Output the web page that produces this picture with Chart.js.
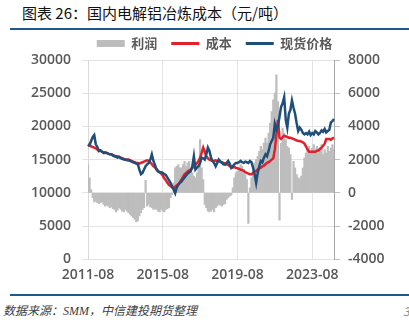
<!DOCTYPE html>
<html>
<head>
<meta charset="utf-8">
<script src="https://cdn.jsdelivr.net/npm/chart.js@4"></script>
<style>
body{margin:0;width:409px;height:326px;background:#fff;position:relative;overflow:hidden;font-family:'Noto Sans CJK SC',sans-serif;}
#title{position:absolute;left:22px;top:3px;font-size:15px;line-height:20px;color:#111;white-space:nowrap;}
.rule{position:absolute;left:10px;width:399px;height:2px;background:#1d5a8a;}
#wrap{position:absolute;left:0;top:23px;width:409px;height:267px;}
#src{position:absolute;left:3px;top:302px;font-size:12px;line-height:18px;font-style:italic;color:#404040;font-family:'Liberation Serif','Noto Sans CJK SC',serif;white-space:nowrap;}
#pg{position:absolute;left:403px;top:302px;font-size:12px;line-height:18px;font-style:italic;color:#888;}
</style>
</head>
<body>
<div id="title">图表 26：国内电解铝冶炼成本（元/吨）</div>
<div class="rule" style="top:28px"></div>
<div id="wrap"><canvas id="c"></canvas></div>
<div class="rule" style="top:294px"></div>
<div id="src">数据来源：SMM，中信建投期货整理</div>
<div id="pg">3</div>
<script>
// monthly, 2011-08 .. 2024-10
const startYear = 2011, startMonth = 8, monthCount = 159;
const tickLabels = ['2011-08', '2015-08', '2019-08', '2023-08'];

// 成本 (元/吨)
const cost = [
  17300, 17200, 17000, 16900, 16800, 16700, 16500, 16300, 16300, 16200, 16100, 16000,
  16000, 15900, 15800, 15800, 15700, 15600, 15500, 15500, 15400, 15300, 15200, 15100,
  15000, 15000, 15000, 14900, 14800, 14700, 14600, 14500, 14500, 14400, 14500, 14600,
  14700, 14800, 14900, 14800, 14600, 14300, 14000, 13800, 13600, 13300, 13100, 12900,
  12600, 12200, 11900, 11500, 11200, 11000, 10800, 10700, 10900, 11100, 11300, 11600,
  12000, 12400, 12800, 13000, 13200, 13400, 13500, 13700, 14000, 14200, 14500, 14800,
  15300, 16000, 16800, 16200, 15500, 15200, 15000, 14900, 14800, 14800, 14900, 14800,
  14800, 14700, 14600, 14500, 14400, 14300, 14200, 14000, 13900, 13800, 13900, 13750,
  13700, 13600, 13500, 13400, 13300, 13100, 13000, 12900, 12800, 12800, 13000, 13200,
  13300, 13500, 13700, 13800, 14000, 14100, 14300, 14500, 14600, 14800, 15000, 15200,
  16500, 18800, 21000, 18300, 18100, 18400, 18600, 18500, 18400, 18300, 18300, 18200,
  18100, 18000, 17900, 17800, 17800, 17700, 17600, 17400, 17000, 16500, 16200, 16200,
  16200, 16200, 16200, 16300, 16400, 16600, 16800, 17100, 17400, 18100, 18100, 18100,
  18000, 18200, 18300
];

// 现货价格 (元/吨)
const price = [
  17000, 17200, 17800, 18400, 18700, 17300, 16900, 16300, 16400, 16200, 16000, 16100,
  16000, 15900, 15800, 15800, 15600, 15500, 15400, 15300, 15400, 15200, 15100, 15000,
  15000, 14900, 14900, 14800, 14700, 14600, 14500, 14400, 14300, 13500, 12800, 13000,
  13500, 14000, 14300, 14500, 15000, 15800, 14800, 14200, 13500, 13200, 13100, 13100,
  13000, 12800, 12700, 12300, 11900, 11500, 11000, 10500, 9950, 10800, 11200, 11500,
  11700, 12000, 12300, 12600, 12900, 13100, 13250, 14000, 15500, 13500, 13800, 14000,
  14500, 15300, 15200, 15000, 15800, 16800, 16300, 15300, 14800, 14500, 14000, 14500,
  15000, 14700, 14500, 14300, 14250, 14500, 14800, 14400, 13750, 14000, 14300, 14500,
  14500, 14600, 14800, 14600, 14500, 14700, 14600, 14500, 14800, 14600, 13800, 12800,
  11500, 13000, 14000, 14800, 14600, 15300, 15800, 15500, 16300, 17300, 17800, 18300,
  20400, 19500, 20000, 21500, 22900, 23500, 24400, 21000, 19800, 21900, 22500, 23900,
  22800, 21900, 20500, 19300, 19800, 19500, 19000, 18800, 19000, 18800, 19200, 18700,
  19000, 18800, 19300, 19100, 18800, 19000, 19400, 19200, 19600, 19100, 19300, 19500,
  20600, 20800, 21100
];

// 利润 (元/吨, 右轴)
const profit = [
  1700, 900, 200, -300, -550, -500, -600, -650, -600, -550, -700, -800,
  -750, -800, -900, -850, -950, -1000, -1150, -1050, -900, -1000, -1100, -1150,
  -1000, -1100, -1200, -1300, -1400, -1500, -1600, -1750, -1700, -1400, -1200, -1000,
  -900, 750, -800, -700, -850, -900, -1000, -950, -1000, -1100, -1150, -1000,
  -1100, -1150, -1000, -950, -900, -300, -100, 600, 1500, 1600, 1700, 1500,
  1500, 1700, 1900, 1600, 1800, 1900, 1400, 1200, 1000, 900, 1200, 1800,
  3200, 1500, 800, -700, -900, -1100, -1150, -1100, -1000, -1150, -900, -800,
  -700, -750, -800, -700, -650, -400, -300, -200, -150, 300, 900, 1200,
  1300, 1500, 1700, 1600, 1400, 1100, 800, -1850, 300, 900, 1400, 1800,
  2000, 2200, 2500, 2800, 2600, 3000, 3300, 3000, 3600, 4200, 4900, 5600,
  6000, 7100, 5500, -1650, 3000, 3900, 3600, 3200, 2800, 2700, 2300, -400,
  1900, 1500, 1100, 900, 850, 1000, 1500, 2100, 2400, 2600, 2800, 2500,
  2700, 2900, 2600, 2800, 2500, 2700, 2900, 2300, 2600, 2400, 2800, 2500,
  2700, 2900, 2600
];

const months = [];
for (let i = 0; i < monthCount; i++) {
  const m = startMonth - 1 + i;
  const y = startYear + Math.floor(m / 12);
  months.push(y + '-' + String(m % 12 + 1).padStart(2, '0'));
}

const tickFont = { family: "'Open Sans', sans-serif", size: 14, weight: '600' };
const tickColor = '#595959';
const gridColor = '#e3e3e3';
const plain = v => String(v);

new Chart(document.getElementById('c'), {
  type: 'bar',
  data: {
    labels: months,
    datasets: [
      {
        type: 'bar',
        label: '利润',
        data: profit,
        yAxisID: 'y1',
        backgroundColor: '#bdbdbd',
        borderWidth: 0,
        barPercentage: 1,
        categoryPercentage: 1,
        order: 2
      },
      {
        type: 'line',
        label: '成本',
        data: cost,
        yAxisID: 'y',
        borderColor: '#e0202a',
        backgroundColor: '#e0202a',
        borderWidth: 2.5,
        pointRadius: 0,
        order: 1
      },
      {
        type: 'line',
        label: '现货价格',
        data: price,
        yAxisID: 'y',
        borderColor: '#1f4e79',
        backgroundColor: '#1f4e79',
        borderWidth: 2.5,
        pointRadius: 0,
        order: 0
      }
    ]
  },
  options: {
    responsive: true,
    maintainAspectRatio: false,
    animation: false,
    devicePixelRatio: 1,
    layout: { padding: { left: 20, right: 0, top: 0, bottom: 0 } },
    plugins: {
      tooltip: { enabled: false },
      legend: {
        position: 'top',
        labels: {
          usePointStyle: true,
          pointStyleWidth: 28,
          boxHeight: 7,
          padding: 14,
          color: '#595959',
          font: { family: "'Noto Sans CJK SC', sans-serif", size: 13, weight: 'bold' },
          generateLabels(chart) {
            const items = Chart.defaults.plugins.legend.labels.generateLabels(chart);
            items.forEach(it => {
              if (it.datasetIndex === 0) {
                it.pointStyle = 'rect';
                it.lineWidth = 0;
              } else {
                it.pointStyle = 'line';
                it.lineWidth = 3;
              }
            });
            return items.sort((a, b) => a.datasetIndex - b.datasetIndex);
          }
        }
      }
    },
    scales: {
      x: {
        type: 'category',
        offset: false,
        grid: { offset: false, color: gridColor, drawTicks: false },
        border: { display: false },
        ticks: {
          autoSkip: false,
          maxRotation: 0,
          padding: 7,
          font: tickFont,
          color: tickColor,
          callback(v) { return this.getLabelForValue(v); }
        },
        afterBuildTicks(s) {
          s.ticks = s.ticks.filter(t => tickLabels.includes(months[t.value]));
        }
      },
      y: {
        position: 'left',
        min: 0,
        max: 30000,
        ticks: { stepSize: 5000, padding: 11, font: tickFont, color: tickColor, callback: plain },
        grid: { color: gridColor, tickLength: 6 },
        border: { color: '#d9d9d9' },
        afterFit(s) { s.width = 68; }
      },
      y1: {
        position: 'right',
        min: -4000,
        max: 8000,
        ticks: { stepSize: 2000, padding: 8, font: tickFont, color: tickColor, callback: plain },
        grid: { drawOnChartArea: false, color: '#bfbfbf', tickLength: 6 },
        border: { color: '#a6a6a6' },
        afterFit(s) { s.width = 75; }
      }
    }
  }
});
</script>
</body>
</html>
